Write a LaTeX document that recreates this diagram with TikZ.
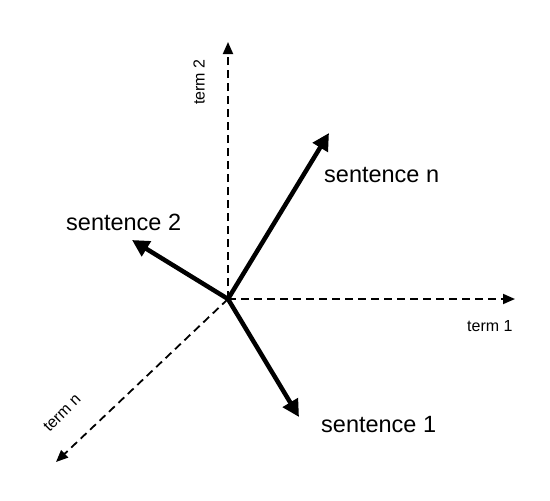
\documentclass[tikz,border=0pt]{standalone}
\usepackage{fontspec}
\setmainfont{Liberation Sans}
\usetikzlibrary{arrows.meta}
\begin{document}
\begin{tikzpicture}[x=1pt,y=-1pt,
  axisline/.style={line width=1.8pt,dash pattern=on 8pt off 5pt,-{Triangle[length=12pt,width=10pt]}},
  vecline/.style={line width=4.5pt,-{Triangle[length=17pt,width=17pt]}},
  biglabel/.style={font=\fontsize{23.5}{26}\selectfont,inner sep=0pt},
  smalllabel/.style={font=\fontsize{16}{18}\selectfont,inner sep=0pt}]
\useasboundingbox (0,0) rectangle (550,501);
\coordinate (O) at (228,299);
\coordinate (t1) at (515,299);
\coordinate (t2) at (228,42);
\coordinate (tn) at (56,462);
\coordinate (s1) at (299,417);
\coordinate (s2) at (132,240);
\coordinate (sn) at (329,133);
\draw[axisline] (O) -- (t1);
\draw[axisline] (O) -- (t2);
\draw[axisline] (O) -- (tn);
\draw[vecline] (O) -- (s1);
\draw[vecline] (O) -- (s2);
\draw[vecline] (O) -- (sn);
\node[biglabel,anchor=west] (ln) at (324,175) {sentence n};
\node[biglabel,anchor=west] (l2) at (66,222) {sentence 2};
\node[biglabel,anchor=west] (l1) at (321,425) {sentence 1};
\node[smalllabel,anchor=west] (lt1) at (467,326) {term 1};
\node[smalllabel,rotate=90] (lt2) at (199,82) {term 2};
\node[smalllabel,rotate=45] (ltn) at (62,413) {term n};
\end{tikzpicture}
\end{document}
